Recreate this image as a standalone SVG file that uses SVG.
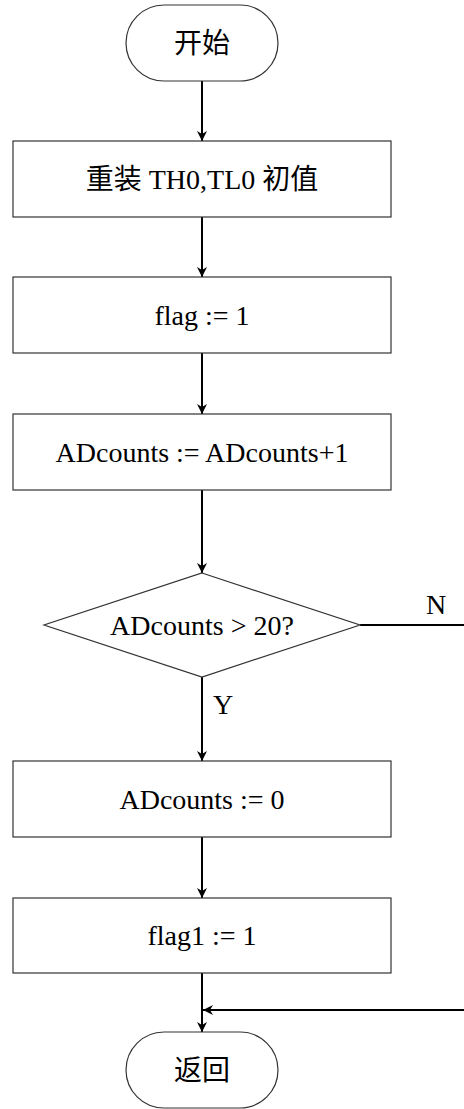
<svg xmlns="http://www.w3.org/2000/svg" width="464" height="1109" viewBox="0 0 464 1109">
<defs>
<marker id="arr" viewBox="0 0 10 10" refX="10" refY="5" markerWidth="10" markerHeight="10" markerUnits="userSpaceOnUse" orient="auto">
<path d="M0,0 L10,5 L0,10 L3,5 z" fill="#000"/>
</marker>
<style>
.shape{fill:#fff;stroke:#333;stroke-width:1.2}
.t{font-family:"Liberation Serif","Noto Sans CJK SC",serif;font-size:28px;fill:#000;text-anchor:middle;dominant-baseline:central}
.c{fill:none;stroke:#000;stroke-width:2}
</style>
</defs>
<rect width="464" height="1109" fill="#fff"/>
<g id="connectors">
<line class="c" x1="202" y1="81" x2="202" y2="141" marker-end="url(#arr)"/>
<line class="c" x1="202" y1="217" x2="202" y2="277" marker-end="url(#arr)"/>
<line class="c" x1="202" y1="353" x2="202" y2="414" marker-end="url(#arr)"/>
<line class="c" x1="202" y1="490" x2="202" y2="573" marker-end="url(#arr)"/>
<line class="c" x1="202" y1="677" x2="202" y2="761" marker-end="url(#arr)"/>
<line class="c" x1="202" y1="837" x2="202" y2="898" marker-end="url(#arr)"/>
<line class="c" x1="202" y1="973" x2="202" y2="1032" marker-end="url(#arr)"/>
<line class="c" x1="360" y1="625" x2="464" y2="625"/>
<line class="c" x1="464" y1="1010" x2="203" y2="1010" marker-end="url(#arr)"/>
<text class="t" x="436" y="604">N</text>
<text class="t" x="223" y="704">Y</text>
</g>
<g id="start">
<rect class="shape" x="126" y="5" width="152" height="76" rx="38" ry="38"/>
<text class="t" x="202" y="43">开始</text>
</g>
<g id="reload">
<rect class="shape" x="13" y="141" width="378" height="76"/>
<text class="t" x="202" y="179">重装 TH0,TL0 初值</text>
</g>
<g id="setflag">
<rect class="shape" x="13" y="277" width="378" height="76"/>
<text class="t" x="202" y="315">flag := 1</text>
</g>
<g id="inc">
<rect class="shape" x="13" y="414" width="378" height="76"/>
<text class="t" x="202" y="452">ADcounts := ADcounts+1</text>
</g>
<g id="decision">
<polygon class="shape" points="202,573 360,625 202,677 44,625"/>
<text class="t" x="202" y="625">ADcounts &gt; 20?</text>
</g>
<g id="reset">
<rect class="shape" x="13" y="761" width="378" height="76"/>
<text class="t" x="202" y="799">ADcounts := 0</text>
</g>
<g id="setflag1">
<rect class="shape" x="13" y="898" width="378" height="75"/>
<text class="t" x="202" y="935">flag1 := 1</text>
</g>
<g id="return">
<rect class="shape" x="126" y="1032" width="152" height="76" rx="38" ry="38"/>
<text class="t" x="202" y="1070">返回</text>
</g>
</svg>
